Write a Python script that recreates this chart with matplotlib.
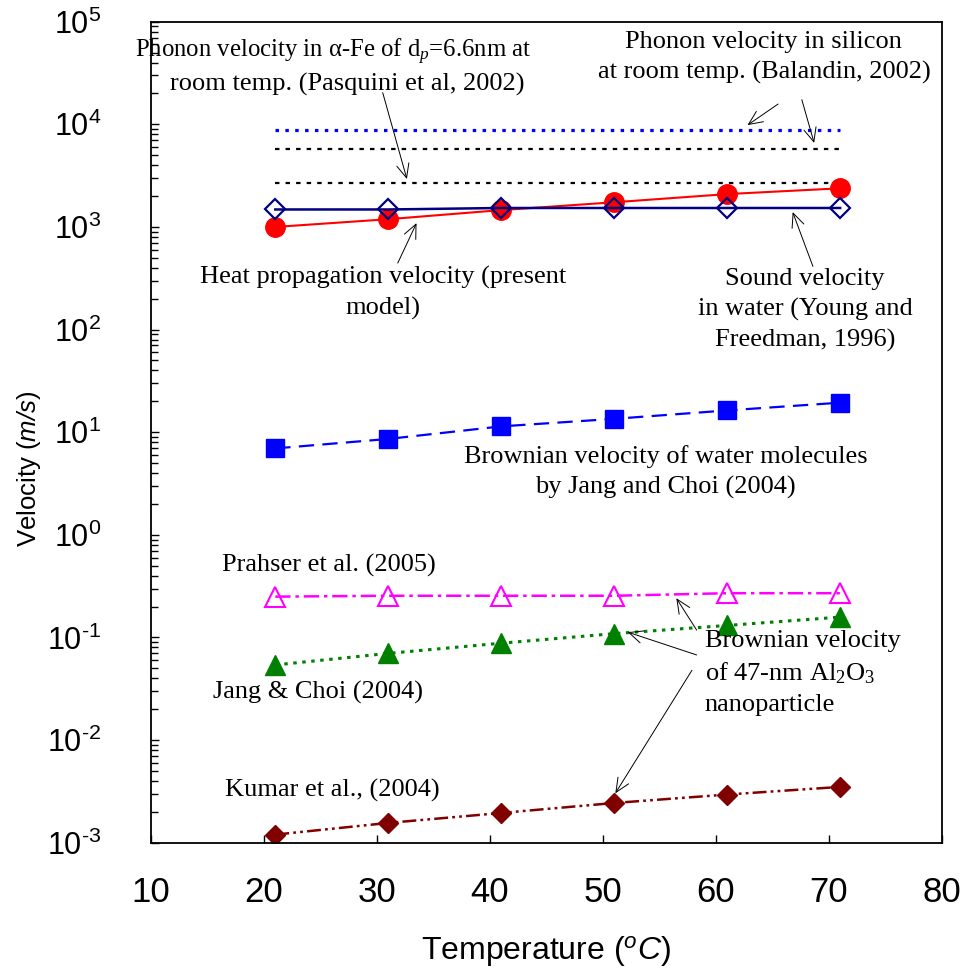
import matplotlib
matplotlib.use("Agg")
import matplotlib.pyplot as plt
from matplotlib.ticker import LogLocator, NullFormatter, FixedLocator, FuncFormatter
import numpy as np

# ---------------- data ----------------
temperature = [21, 31, 41, 51, 61, 71]
heat_velocity = [1000, 1190, 1460, 1740, 2090, 2380]
sound_velocity = [1480, 1480, 1530, 1530, 1530, 1530]
water_brownian = [6.95, 8.6, 11.4, 13.5, 16.3, 19.4]
prahser = [0.25, 0.255, 0.255, 0.255, 0.27, 0.27]
jang_choi = [0.054, 0.070, 0.088, 0.109, 0.131, 0.158]
kumar = [1.2e-3, 1.56e-3, 1.95e-3, 2.44e-3, 2.95e-3, 3.5e-3]

ref_temperature = [21, 71]
phonon_si_a = 8800
phonon_si_b = 5740
phonon_fe = 2660

x_ticks = [10, 20, 30, 40, 50, 60, 70, 80]

# ---------------- style ----------------
plt.rcParams['font.family'] = ['Liberation Sans', 'DejaVu Sans']
plt.rcParams['mathtext.fontset'] = 'custom'
plt.rcParams['mathtext.rm'] = 'Liberation Serif'
plt.rcParams['mathtext.it'] = 'Liberation Serif:italic'
plt.rcParams['mathtext.sf'] = 'Liberation Sans:italic'
plt.rcParams['lines.scale_dashes'] = False

fig = plt.figure(figsize=(9.62, 9.68), dpi=100)
ax = fig.add_axes([0.157, 0.1294, 0.822, 0.8482])

ax.set_yscale('log')
ax.set_xlim(10, 80)
ax.set_ylim(1e-3, 1e5)

# reference lines
ax.plot(ref_temperature, [phonon_si_a] * 2, color='#0000ff', lw=2.3, dashes=(2.5, 4.6))
ax.plot(ref_temperature, [phonon_si_b] * 2, color='black', lw=1.6, dashes=(3.2, 4.4))
ax.plot(ref_temperature, [phonon_fe] * 2, color='black', lw=1.6, dashes=(3.2, 4.4))

# series
ax.plot(temperature, heat_velocity, color='red', lw=1.5, marker='o', ms=14,
        mfc='red', mec='red')
ax.plot(temperature, sound_velocity, color='#000080', lw=1.8, marker='D', ms=10.5,
        mfc='none', mec='#000080', mew=1.6)
ax.plot(temperature, water_brownian, color='#0000ff', lw=1.6, dashes=(11, 6),
        marker='s', ms=13, mfc='#0000ff', mec='#0000ff')
ax.plot(temperature, prahser, color='#ff00ff', lw=1.8, dashes=(11, 3.5, 2.5, 3.5),
        marker='^', ms=14, mfc='none', mec='#ff00ff', mew=1.5)
ax.plot(temperature, jang_choi, color='#008000', lw=2.2, dashes=(2.5, 4),
        marker='^', ms=14, mfc='#008000', mec='#008000')
ax.plot(temperature, kumar, color='#800000', lw=1.8, dashes=(10, 3, 2, 3, 2, 3),
        marker='D', ms=10, mfc='#800000', mec='#800000')


def log_label(v, pos):
    e = int(round(np.log10(v)))
    s = str(e).replace('-', '\u2010')
    return r'$\mathdefault{10^{%s}}$' % s


# axes styling
ax.xaxis.set_major_locator(FixedLocator(x_ticks))
ax.yaxis.set_major_locator(LogLocator(base=10, numticks=20))
ax.yaxis.set_major_formatter(FuncFormatter(log_label))
ax.yaxis.set_minor_locator(LogLocator(base=10, subs=range(2, 10), numticks=100))
ax.yaxis.set_minor_formatter(NullFormatter())
ax.tick_params(axis='x', which='major', direction='in', length=6, width=1.0,
               labelsize=25, pad=24, top=False)
ax.tick_params(axis='y', which='major', direction='in', length=6, width=1.0,
               labelsize=22, pad=36, right=False)
ax.tick_params(axis='y', which='minor', direction='in', length=5, width=1.0, right=False)
for s in ax.spines.values():
    s.set_linewidth(1.3)

ax.set_xlabel(r'Temperature ($^{\mathsf{o}}\mathsf{C}$)', fontsize=23)
ax.set_ylabel(r'Velocity ($\mathsf{m/s}$)', fontsize=18.5)
ax.xaxis.set_label_coords(0.5, -0.111)
ax.yaxis.set_label_coords(-0.137, 0.455)

# annotations
serif = 'Liberation Serif'
fs = 19
tkw = dict(fontsize=fs, family=serif, transform=ax.transAxes, linespacing=1.45)
ax.text(0.230, 0.963, 'Phonon velocity in α-Fe of d$_{p}$=6.6nm at',
        ha='center', va='center', fontsize=17.8, family=serif, transform=ax.transAxes)
ax.text(0.248, 0.923, 'room temp. (Pasquini et al, 2002)',
        ha='center', va='center', **tkw)
ax.text(0.775, 0.956, 'Phonon velocity in silicon\nat room temp. (Balandin, 2002)',
        ha='center', va='center', multialignment='center', **tkw)
ax.text(0.293, 0.670, 'Heat propagation velocity (present\nmodel)',
        ha='center', va='center', multialignment='center', **tkw)
ax.text(0.827, 0.649, 'Sound velocity\nin water (Young and\nFreedman, 1996)',
        ha='center', va='center', multialignment='center', **tkw)
ax.text(0.651, 0.452, 'Brownian velocity of water molecules\nby Jang and Choi (2004)',
        ha='center', va='center', multialignment='center', **tkw)
ax.text(0.090, 0.338, 'Prahser et al. (2005)', ha='left', va='center', **tkw)
ax.text(0.700, 0.207, 'Brownian velocity\nof 47-nm Al$_2$O$_3$\nnanoparticle',
        ha='left', va='center', multialignment='left', **tkw)
ax.text(0.078, 0.183, 'Jang & Choi (2004)', ha='left', va='center', **tkw)
ax.text(0.0936, 0.064, 'Kumar et al., (2004)', ha='left', va='center', **tkw)

akw = dict(arrowstyle='->,head_length=1.0,head_width=0.45', color='black', lw=0.7,
           shrinkA=0, shrinkB=0)
arrows = [
    ((32.65, 2930), (0.293, 0.9135)),
    ((62.8, 9820), (0.793, 0.8997)),
    ((68.7, 6580), (0.823, 0.905)),
    ((33.5, 1090), (0.312, 0.706)),
    ((66.8, 1397), (0.837, 0.702)),
    ((56.5, 0.2415), (0.690, 0.259)),
    ((52.2, 0.1127), (0.690, 0.2287)),
    ((51.1, 3.03e-3), (0.684, 0.210)),
]
for head, tail in arrows:
    ax.annotate('', xy=head, xycoords='data', xytext=tail, textcoords='axes fraction',
                arrowprops=akw)

fig.savefig('out.png', dpi=100)
